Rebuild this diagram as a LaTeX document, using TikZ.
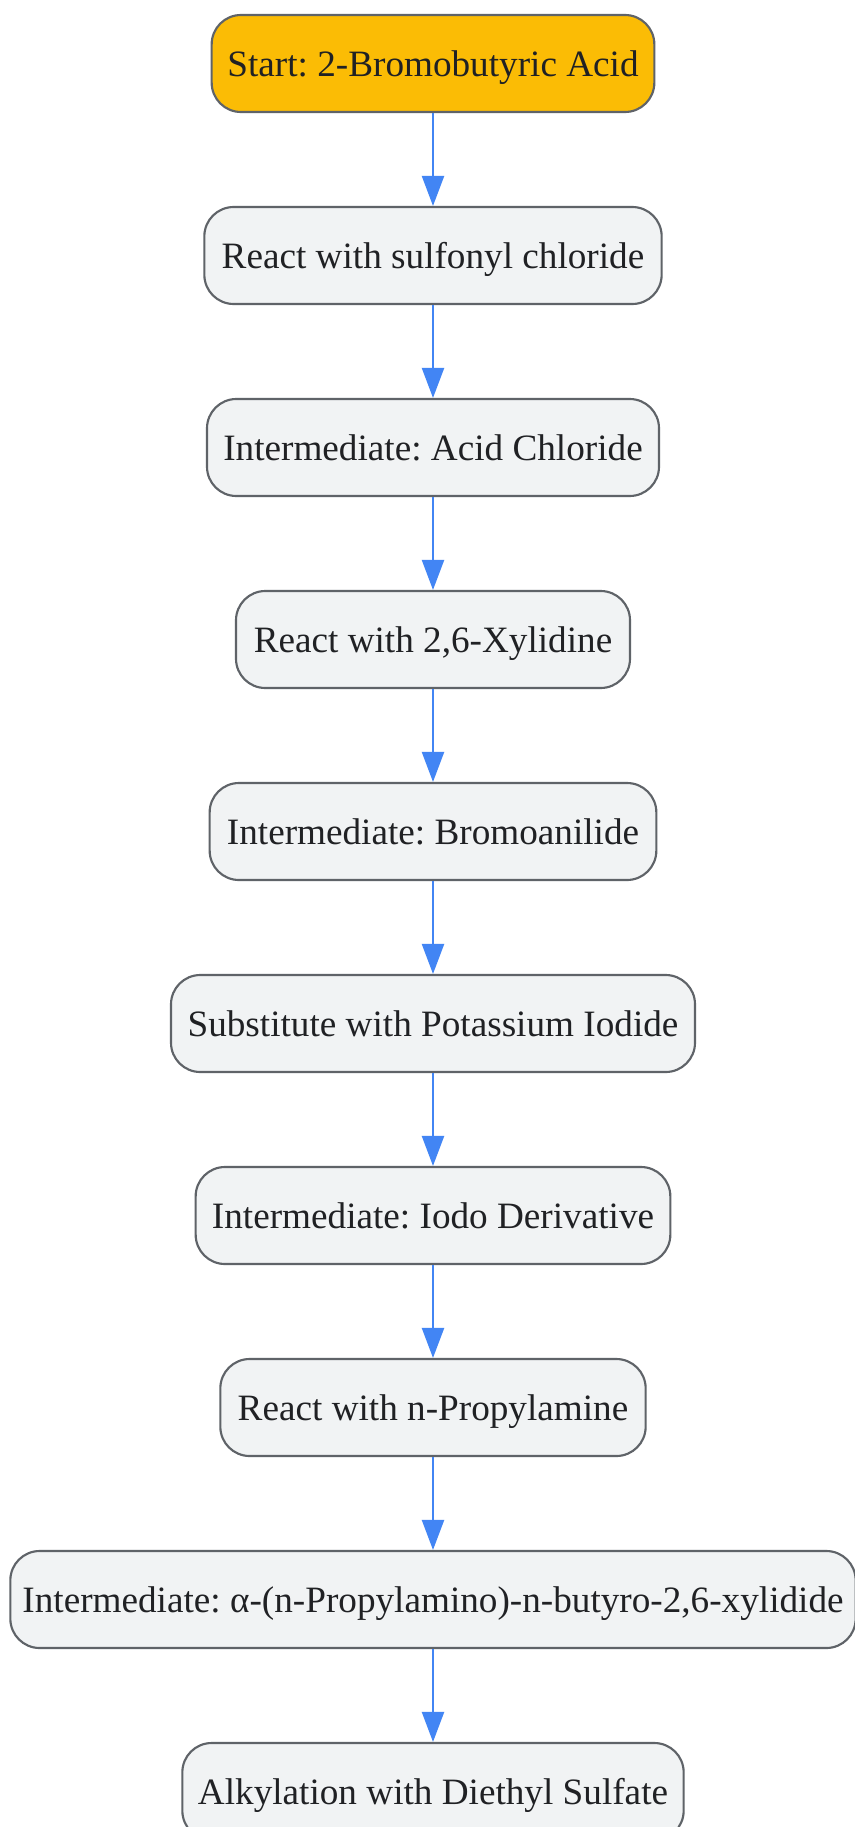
\documentclass[tikz,border=0pt]{standalone}
\usepackage{fontspec}
\setmainfont{Liberation Serif}
\usetikzlibrary{arrows.meta}
\definecolor{startfill}{HTML}{FBBC05}
\definecolor{boxfill}{HTML}{F1F3F4}
\definecolor{boxline}{HTML}{5F6368}
\definecolor{arrowblue}{HTML}{4285F4}
\definecolor{txt}{HTML}{202124}
\tikzset{
  stepbox/.style={draw=boxline, line width=1.6pt, fill=boxfill, rounded corners=22pt,
    minimum height=72.75pt, inner sep=0pt, text height=26pt, text depth=5.8pt, text=txt,
    font=\fontsize{27.9pt}{32pt}\selectfont\frenchspacing},
  startbox/.style={stepbox, fill=startfill},
  flow/.style={draw=arrowblue, line width=1.7pt, -{Triangle[width=16.5pt,length=22.5pt]}}
}
\begin{document}
\begin{tikzpicture}[x=0.75pt,y=-0.75pt]
\useasboundingbox (0,0) rectangle (855,1827);
\fill[white] (0,0) rectangle (855,1827);
\clip (0,0) rectangle (855,1827);
\node[startbox, minimum width=332pt] (n1) at (433,63.5) {Start: 2-Bromobutyric Acid};
\node[stepbox, minimum width=343pt] (n2) at (433,255.5) {React with sulfonyl chloride};
\node[stepbox, minimum width=339pt] (n3) at (433,447.5) {Intermediate: Acid Chloride};
\node[stepbox, minimum width=295.5pt] (n4) at (433,639.5) {React with 2,6-Xylidine};
\node[stepbox, minimum width=335pt] (n5) at (433,831.5) {Intermediate: Bromoanilide};
\node[stepbox, minimum width=393pt] (n6) at (433,1023.5) {Substitute with Potassium Iodide};
\node[stepbox, minimum width=356pt] (n7) at (433,1215.5) {Intermediate: Iodo Derivative};
\node[stepbox, minimum width=319pt] (n8) at (433,1407.5) {React with n-Propylamine};
\node[stepbox, minimum width=634pt] (n9) at (433,1599.5) {Intermediate: α-(n-Propylamino)-n-butyro-2,6-xylidide};
\node[stepbox, minimum width=376pt] (n10) at (433,1791.5) {Alkylation with Diethyl Sulfate};
\foreach \a/\b in {n1/n2,n2/n3,n3/n4,n4/n5,n5/n6,n6/n7,n7/n8,n8/n9,n9/n10}
  \draw[flow] (\a.south) -- (\b.north);
\end{tikzpicture}
\end{document}
